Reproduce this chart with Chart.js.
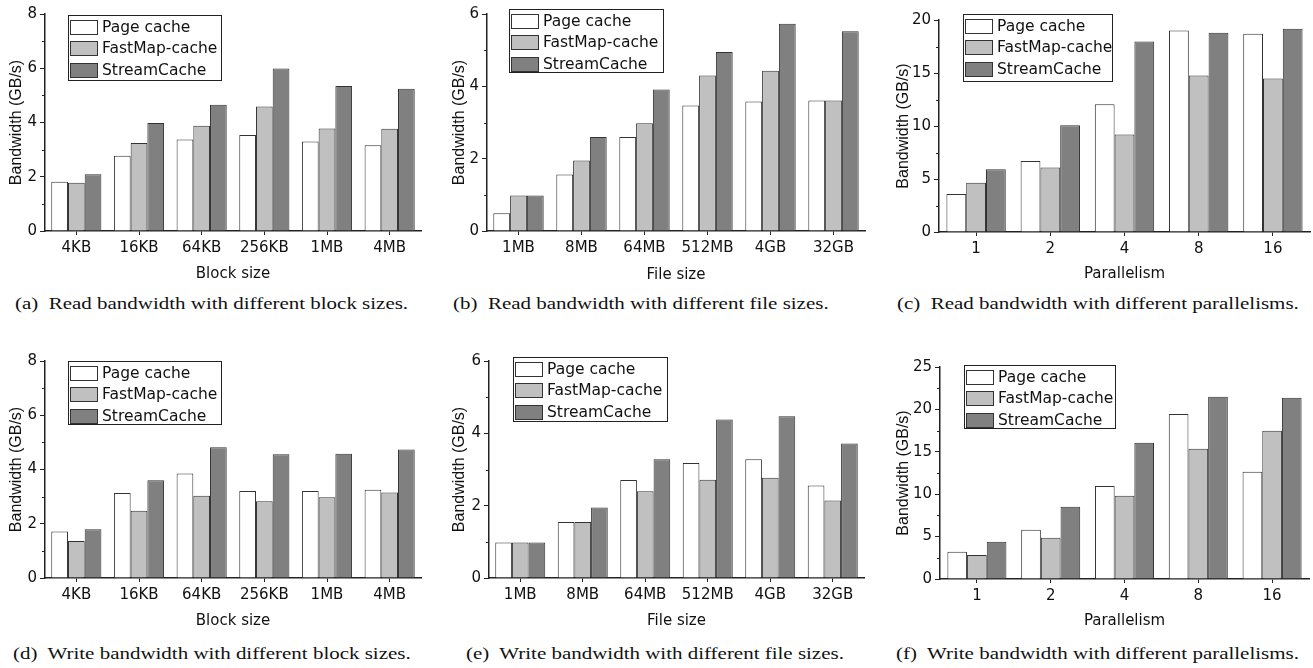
<!DOCTYPE html>
<html lang="en">
<head>
<meta charset="UTF-8">
<title>Read / write bandwidth</title>
<script src="https://cdn.jsdelivr.net/npm/chart.js"></script>
<style>
  body { margin: 0; background: #fff; width: 1313px; height: 668px; position: relative; overflow: hidden; }
  canvas { position: absolute; }
  .cap { position: absolute; font-family: "Liberation Serif", serif; font-size: 16px; line-height: 16px;
         white-space: pre; color: #111; transform-origin: 0 0; transform: scaleX(1.31); }
</style>
</head>
<body>

<canvas id="chartA" width="440" height="295" style="left:0;top:0"></canvas>
<canvas id="chartB" width="440" height="295" style="left:440px;top:0"></canvas>
<canvas id="chartC" width="433" height="295" style="left:880px;top:0"></canvas>
<canvas id="chartD" width="440" height="300" style="left:0;top:340px"></canvas>
<canvas id="chartE" width="440" height="300" style="left:440px;top:340px"></canvas>
<canvas id="chartF" width="433" height="300" style="left:880px;top:340px"></canvas>

<div class="cap" style="left:15px;top:296px">(a)  Read bandwidth with different block sizes.</div>
<div class="cap" style="left:453px;top:296px">(b)  Read bandwidth with different file sizes.</div>
<div class="cap" style="left:897px;top:296px">(c)  Read bandwidth with different parallelisms.</div>
<div class="cap" style="left:13px;top:646px">(d)  Write bandwidth with different block sizes.</div>
<div class="cap" style="left:466px;top:646px">(e)  Write bandwidth with different file sizes.</div>
<div class="cap" style="left:896px;top:646px">(f)  Write bandwidth with different parallelisms.</div>

<script>
// series names and categories
const seriesNames = ['Page cache', 'FastMap-cache', 'StreamCache'];
const blockSizes = ['4KB', '16KB', '64KB', '256KB', '1MB', '4MB'];
const fileSizes = ['1MB', '8MB', '64MB', '512MB', '4GB', '32GB'];
const parallelism = ['1', '2', '4', '8', '16'];

// (a) read, block size
const readBlockPage = [1.82, 2.77, 3.37, 3.54, 3.30, 3.16];
const readBlockFastMap = [1.78, 3.24, 3.88, 4.59, 3.78, 3.77];
const readBlockStream = [2.09, 3.98, 4.65, 5.99, 5.35, 5.24];
// (b) read, file size
const readFilePage = [0.49, 1.56, 2.60, 3.47, 3.58, 3.61];
const readFileFastMap = [0.98, 1.95, 2.98, 4.30, 4.43, 3.61];
const readFileStream = [0.98, 2.60, 3.91, 4.95, 5.73, 5.52];
// (c) read, parallelism
const readParPage = [3.58, 6.69, 12.06, 19.0, 18.7];
const readParFastMap = [4.65, 6.09, 9.2, 14.76, 14.47];
const readParStream = [5.93, 10.08, 17.96, 18.8, 19.18];
// (d) write, block size
const writeBlockPage = [1.71, 3.13, 3.85, 3.21, 3.21, 3.25];
const writeBlockFastMap = [1.36, 2.48, 3.03, 2.83, 2.98, 3.15];
const writeBlockStream = [1.80, 3.60, 4.82, 4.56, 4.58, 4.74];
// (e) write, file size
const writeFilePage = [0.98, 1.55, 2.71, 3.18, 3.28, 2.56];
const writeFileFastMap = [0.98, 1.55, 2.40, 2.72, 2.77, 2.14];
const writeFileStream = [0.98, 1.95, 3.28, 4.38, 4.47, 3.72];
// (f) write, parallelism
const writeParPage = [3.22, 5.82, 10.97, 19.46, 12.66];
const writeParFastMap = [2.83, 4.87, 9.83, 15.37, 17.49];
const writeParStream = [4.40, 8.53, 16.08, 21.5, 21.38];

// y axis ranges: [max, step]
const yRangeBlock = [8, 2];
const yRangeFile = [6, 2];
const yRangeReadPar = [20, 5];
const yRangeWritePar = [25, 5];

const fills = ['#ffffff', '#c0c0c0', '#808080'];
const ink = '#111';
const lineCol = '#222';

Chart.defaults.font.family = '"DejaVu Sans", sans-serif';

// legend in a box inside the plot
const boxLegend = {
    id: 'boxLegend',
    afterDatasetsDraw(chart, args, opts) {
        const ctx = chart.ctx;
        const area = chart.chartArea;
        const x = Math.round(area.left + opts.dx), y = Math.round(area.top + opts.dy);
        ctx.save();
        ctx.fillStyle = '#fff';
        ctx.fillRect(x, y, opts.w, opts.h);
        ctx.strokeStyle = lineCol;
        ctx.lineWidth = 1;
        ctx.strokeRect(x + 0.5, y + 0.5, opts.w, opts.h);
        ctx.font = '15.5px "DejaVu Sans"';
        ctx.textBaseline = 'middle';
        chart.data.datasets.forEach((ds, i) => {
            const ry = Math.round(y + 5 + i * 21.3);
            ctx.fillStyle = ds.backgroundColor;
            ctx.fillRect(x + 2, ry, 28, 15);
            ctx.strokeStyle = '#333';
            ctx.strokeRect(x + 2.5, ry + 0.5, 27, 14);
            ctx.fillStyle = ink;
            ctx.fillText(ds.label, x + 34, ry + 8);
        });
        ctx.restore();
    }
};

// short minor ticks half way between the labelled ones
const minorTicks = {
    id: 'minorTicks',
    afterDraw(chart) {
        const s = chart.scales.y;
        const step = s.options.ticks.stepSize;
        const ctx = chart.ctx;
        ctx.save();
        ctx.strokeStyle = lineCol;
        ctx.lineWidth = 1;
        for (let v = step / 2; v < s.max; v += step) {
            const py = Math.round(s.getPixelForValue(v)) + 0.5;
            ctx.beginPath();
            ctx.moveTo(s.right - 3, py);
            ctx.lineTo(s.right, py);
            ctx.stroke();
        }
        ctx.restore();
    }
};

function drawPanel(id, labels, series, yRange, xTitle, g) {
    const ctx = document.getElementById(id).getContext('2d');
    return new Chart(ctx, {
        type: 'bar',
        data: {
            labels: labels,
            datasets: series.map((vals, i) => ({
                label: seriesNames[i],
                data: vals,
                backgroundColor: fills[i],
                borderColor: '#333',
                borderWidth: 1,
                barPercentage: 1.0,
                categoryPercentage: 0.8
            }))
        },
        options: {
            responsive: false,
            animation: false,
            layout: { padding: { left: 0, top: g.padTop, right: g.padRight, bottom: 0 } },
            plugins: {
                legend: { display: false },
                tooltip: { enabled: false },
                boxLegend: g.legend
            },
            scales: {
                x: {
                    ticks: { color: ink, font: { size: 15 }, padding: 4, maxRotation: 0, autoSkip: false },
                    grid: { display: true, drawOnChartArea: false, offset: false, tickLength: 4, color: lineCol },
                    border: { display: true, color: lineCol, width: 1.5 },
                    title: { display: true, text: xTitle, color: ink, font: { size: 15, lineHeight: 1 },
                             padding: { top: 0, bottom: g.xTitlePad } },
                    afterFit: s => { s.height = g.xHeight; }
                },
                y: {
                    min: 0,
                    max: yRange[0],
                    ticks: { stepSize: yRange[1], color: ink, font: { size: 15 }, padding: 3 },
                    grid: { drawOnChartArea: false, tickLength: 5, color: lineCol },
                    border: { display: true, color: lineCol, width: 1.5 },
                    title: { display: true, text: 'Bandwidth (GB/s)', color: ink,
                             font: { family: '"Liberation Sans", sans-serif', size: 16, lineHeight: 1 },
                             padding: { top: g.yTitlePad, bottom: 0 } },
                    afterFit: s => { s.width = g.yWidth; }
                }
            }
        },
        plugins: [boxLegend, minorTicks]
    });
}

drawPanel('chartA', blockSizes, [readBlockPage, readBlockFastMap, readBlockStream], yRangeBlock, 'Block size',
    { padTop: 14, padRight: 19, yWidth: 45, xHeight: 64, xTitlePad: 13, yTitlePad: 8.7,
      legend: { dx: 22.7, dy: 1, w: 153, h: 65 } });
drawPanel('chartB', fileSizes, [readFilePage, readFileFastMap, readFileStream], yRangeFile, 'File size',
    { padTop: 14, padRight: 15, yWidth: 47, xHeight: 64, xTitlePad: 12.5, yTitlePad: 12,
      legend: { dx: 22.3, dy: -4.7, w: 154, h: 63 } });
drawPanel('chartC', parallelism, [readParPage, readParFastMap, readParStream], yRangeReadPar, 'Parallelism',
    { padTop: 20, padRight: 3, yWidth: 59, xHeight: 63, xTitlePad: 13, yTitlePad: 16,
      legend: { dx: 24.3, dy: -6, w: 149, h: 67 } });
drawPanel('chartD', blockSizes, [writeBlockPage, writeBlockFastMap, writeBlockStream], yRangeBlock, 'Block size',
    { padTop: 21, padRight: 19, yWidth: 45, xHeight: 62, xTitlePad: 11.5, yTitlePad: 8.7,
      legend: { dx: 22.7, dy: 0, w: 153, h: 63 } });
drawPanel('chartE', fileSizes, [writeFilePage, writeFileFastMap, writeFileStream], yRangeFile, 'File size',
    { padTop: 21, padRight: 16, yWidth: 49, xHeight: 62, xTitlePad: 11.5, yTitlePad: 12,
      legend: { dx: 24.3, dy: -4.3, w: 154, h: 64 } });
drawPanel('chartF', parallelism, [writeParPage, writeParFastMap, writeParStream], yRangeWritePar, 'Parallelism',
    { padTop: 27, padRight: 4, yWidth: 60, xHeight: 61, xTitlePad: 11, yTitlePad: 15.7,
      legend: { dx: 24.3, dy: -2, w: 151, h: 63 } });
</script>

</body>
</html>
